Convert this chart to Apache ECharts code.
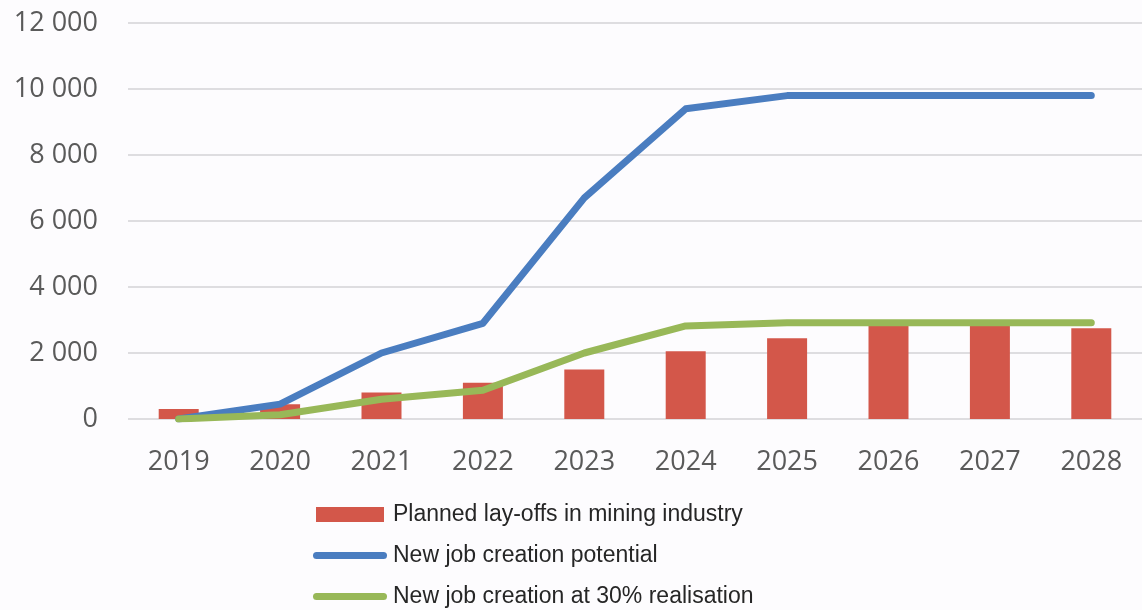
<!DOCTYPE html>
<html>
<head>
<meta charset="utf-8">
<script src="https://cdn.jsdelivr.net/npm/echarts@6/dist/echarts.min.js"></script>
<style>
  html, body { margin: 0; padding: 0; background: #fdfcfe; }
  #chart { width: 1142px; height: 610px; }
</style>
</head>
<body>
<div id="chart"></div>
<script>
// Years on the horizontal axis
const years = ['2019', '2020', '2021', '2022', '2023', '2024', '2025', '2026', '2027', '2028'];

// Planned lay-offs in the mining industry (bars)
const layoffs = [300, 450, 800, 1100, 1500, 2050, 2450, 2850, 2850, 2750];

// New job creation potential (blue line)
const jobPotential = [0, 450, 2000, 2900, 6700, 9400, 9800, 9800, 9800, 9800];

// New job creation at 30% realisation (green line)
const jobRealised = [0, 130, 600, 870, 2000, 2820, 2920, 2920, 2920, 2920];

// Value axis ticks
const yMin = 0, yMax = 12000, yStep = 2000;

const seriesNames = [
  'Planned lay-offs in mining industry',
  'New job creation potential',
  'New job creation at 30% realisation'
];

const colors = { bar: '#d3574a', potential: '#4a7dc0', realised: '#98b858' };

// Thick rounded stroke used as the legend key for the two lines
const lineKey = 'path://M3.5,0 H70.5 A3.5,3.5 0 0 1 70.5,7 H3.5 A3.5,3.5 0 0 1 3.5,0 Z';

const fmtThousands = v => String(v).replace(/\B(?=(\d{3})+(?!\d))/g, ' ');

const chart = echarts.init(document.getElementById('chart'), null, { renderer: 'canvas' });

chart.setOption({
  backgroundColor: '#fdfcfe',
  animation: false,
  grid: { left: 128, top: 23, width: 1017, height: 396, containLabel: false },
  legend: {
    orient: 'vertical',
    left: 313,
    top: 503,
    height: 140,
    padding: 0,
    itemWidth: 74,
    itemHeight: 15,
    itemGap: 18,
    textStyle: { fontFamily: 'Liberation Sans, Arial, sans-serif', fontSize: 23, color: '#262626', padding: [0, 0, 0, 1] },
    data: [
      { name: seriesNames[0], icon: 'path://M0,0 H68 V15 H0 Z', itemStyle: { color: colors.bar } },
      { name: seriesNames[1], icon: lineKey, itemStyle: { color: colors.potential } },
      { name: seriesNames[2], icon: lineKey, itemStyle: { color: colors.realised } }
    ]
  },
  xAxis: {
    type: 'category',
    data: years,
    boundaryGap: true,
    axisLine: { show: false },
    axisTick: { show: false },
    axisLabel: {
      margin: 30,
      fontFamily: 'Open Sans, sans-serif',
      fontSize: 27,
      color: '#5a5a5a'
    }
  },
  yAxis: {
    type: 'value',
    min: yMin,
    max: yMax,
    interval: yStep,
    axisLine: { show: false },
    axisTick: { show: false },
    splitLine: { lineStyle: { color: '#dedde0', width: 2 } },
    axisLabel: {
      margin: 30,
      fontFamily: 'Open Sans, sans-serif',
      fontSize: 27,
      color: '#5a5a5a',
      formatter: fmtThousands
    }
  },
  series: [
    {
      name: seriesNames[0],
      type: 'bar',
      data: layoffs,
      barWidth: 40,
      itemStyle: { color: colors.bar },
      z: 1
    },
    {
      name: seriesNames[1],
      type: 'line',
      data: jobPotential,
      symbol: 'none',
      lineStyle: { color: colors.potential, width: 7, cap: 'round', join: 'round' },
      itemStyle: { color: colors.potential },
      z: 2
    },
    {
      name: seriesNames[2],
      type: 'line',
      data: jobRealised,
      symbol: 'none',
      lineStyle: { color: colors.realised, width: 7, cap: 'round', join: 'round' },
      itemStyle: { color: colors.realised },
      z: 3
    }
  ]
});
</script>
</body>
</html>
